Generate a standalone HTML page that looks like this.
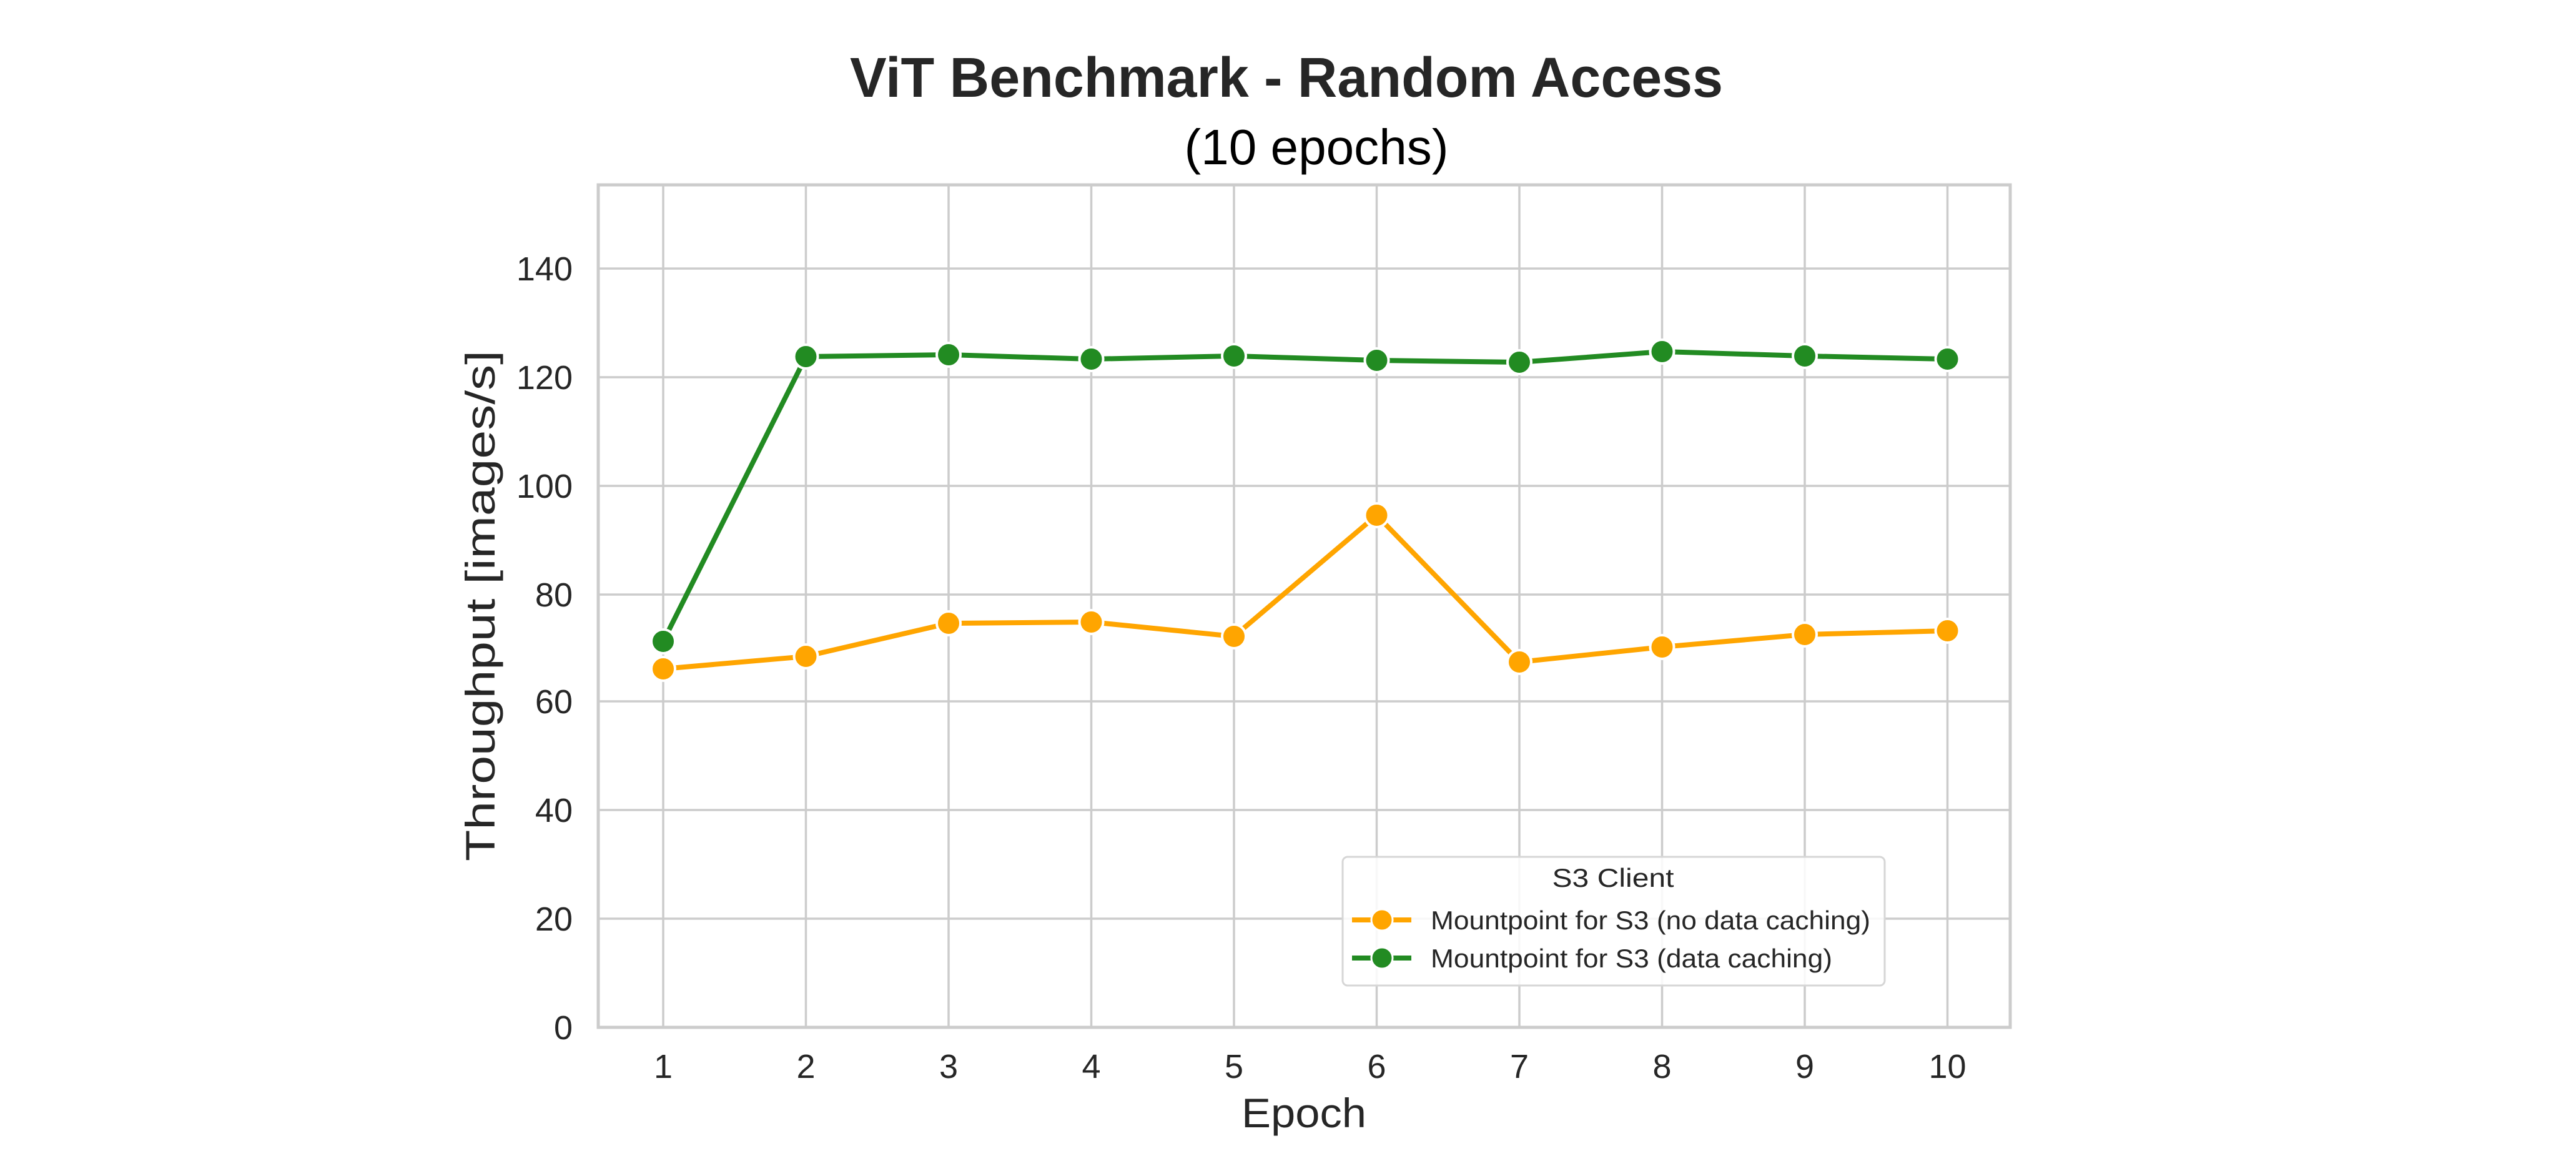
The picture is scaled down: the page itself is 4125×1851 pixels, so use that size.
<!DOCTYPE html>
<html><head><meta charset="utf-8"><style>html,body{margin:0;padding:0;background:#fff}svg{display:block}</style></head>
<body>
<svg width="4125" height="1851" viewBox="0 0 4125 1851" xmlns="http://www.w3.org/2000/svg" font-family="Liberation Sans, Arial, sans-serif">
<rect width="4125" height="1851" fill="#fff"/>
<text x="2060" y="155" font-size="90" font-weight="bold" fill="#262626" text-anchor="middle" textLength="1398" lengthAdjust="spacingAndGlyphs">ViT Benchmark - Random Access</text>
<text x="2108" y="263" font-size="80" fill="#000" text-anchor="middle" textLength="423" lengthAdjust="spacingAndGlyphs">(10 epochs)</text>
<g stroke="#cccccc" stroke-width="3.5">
<line x1="958" x2="3219" y1="430" y2="430"/><line x1="958" x2="3219" y1="604" y2="604"/><line x1="958" x2="3219" y1="778" y2="778"/><line x1="958" x2="3219" y1="952" y2="952"/><line x1="958" x2="3219" y1="1123" y2="1123"/><line x1="958" x2="3219" y1="1297" y2="1297"/><line x1="958" x2="3219" y1="1471" y2="1471"/>
<line y1="296" y2="1645" x1="1062" x2="1062"/><line y1="296" y2="1645" x1="1290.5" x2="1290.5"/><line y1="296" y2="1645" x1="1519" x2="1519"/><line y1="296" y2="1645" x1="1747.5" x2="1747.5"/><line y1="296" y2="1645" x1="1976" x2="1976"/><line y1="296" y2="1645" x1="2204.5" x2="2204.5"/><line y1="296" y2="1645" x1="2433" x2="2433"/><line y1="296" y2="1645" x1="2661.5" x2="2661.5"/><line y1="296" y2="1645" x1="2890" x2="2890"/><line y1="296" y2="1645" x1="3118.5" x2="3118.5"/>
</g>
<rect x="958" y="296" width="2261" height="1349" fill="none" stroke="#cccccc" stroke-width="5"/>
<g font-size="54" fill="#262626" text-anchor="end">
<text x="917" y="449">140</text><text x="917" y="623">120</text><text x="917" y="797">100</text><text x="917" y="971">80</text><text x="917" y="1142">60</text><text x="917" y="1316">40</text><text x="917" y="1490">20</text><text x="917" y="1664">0</text>
</g>
<g font-size="54" fill="#262626" text-anchor="middle">
<text x="1062" y="1726">1</text><text x="1290.5" y="1726">2</text><text x="1519" y="1726">3</text><text x="1747.5" y="1726">4</text><text x="1976" y="1726">5</text><text x="2204.5" y="1726">6</text><text x="2433" y="1726">7</text><text x="2661.5" y="1726">8</text><text x="2890" y="1726">9</text><text x="3118.5" y="1726">10</text>
</g>
<text x="2088" y="1805" font-size="66" fill="#262626" text-anchor="middle" textLength="200" lengthAdjust="spacingAndGlyphs">Epoch</text>
<text transform="translate(792,970) rotate(-90)" font-size="66" fill="#262626" text-anchor="middle" textLength="818" lengthAdjust="spacingAndGlyphs">Throughput [images/s]</text>
<g fill="none" stroke-width="8" stroke-linejoin="round" stroke-linecap="round">
<polyline stroke="#ffa500" points="1062,1071 1290.5,1051 1519,998 1747.5,996 1976,1019 2204.5,825 2433,1060 2661.5,1036 2890,1016 3118.5,1010"/>
<polyline stroke="#228b22" points="1062,1027 1290.5,571 1519,568 1747.5,575 1976,570 2204.5,577 2433,580 2661.5,563 2890,570 3118.5,575"/>
</g>
<g fill="#ffa500" stroke="#fff" stroke-width="4">
<circle cx="1062" cy="1071" r="19"/><circle cx="1290.5" cy="1051" r="19"/><circle cx="1519" cy="998" r="19"/><circle cx="1747.5" cy="996" r="19"/><circle cx="1976" cy="1019" r="19"/><circle cx="2204.5" cy="825" r="19"/><circle cx="2433" cy="1060" r="19"/><circle cx="2661.5" cy="1036" r="19"/><circle cx="2890" cy="1016" r="19"/><circle cx="3118.5" cy="1010" r="19"/>
</g>
<g fill="#228b22" stroke="#fff" stroke-width="4">
<circle cx="1062" cy="1027" r="19"/><circle cx="1290.5" cy="571" r="19"/><circle cx="1519" cy="568" r="19"/><circle cx="1747.5" cy="575" r="19"/><circle cx="1976" cy="570" r="19"/><circle cx="2204.5" cy="577" r="19"/><circle cx="2433" cy="580" r="19"/><circle cx="2661.5" cy="563" r="19"/><circle cx="2890" cy="570" r="19"/><circle cx="3118.5" cy="575" r="19"/>
</g>
<rect x="2150" y="1372" width="868" height="206" rx="8" fill="#fff" fill-opacity="0.85" stroke="#d6d6d6" stroke-width="3"/>
<text x="2583" y="1420" font-size="42" fill="#262626" text-anchor="middle" textLength="195" lengthAdjust="spacingAndGlyphs">S3 Client</text>
<line x1="2165" x2="2260" y1="1473" y2="1473" stroke="#ffa500" stroke-width="8"/>
<circle cx="2213" cy="1473" r="17" fill="#ffa500" stroke="#fff" stroke-width="3"/>
<text x="2291" y="1488" font-size="42" fill="#262626" textLength="704" lengthAdjust="spacingAndGlyphs">Mountpoint for S3 (no data caching)</text>
<line x1="2165" x2="2260" y1="1534" y2="1534" stroke="#228b22" stroke-width="8"/>
<circle cx="2213" cy="1534" r="17" fill="#228b22" stroke="#fff" stroke-width="3"/>
<text x="2291" y="1549" font-size="42" fill="#262626" textLength="643" lengthAdjust="spacingAndGlyphs">Mountpoint for S3 (data caching)</text>
</svg>
</body></html>
